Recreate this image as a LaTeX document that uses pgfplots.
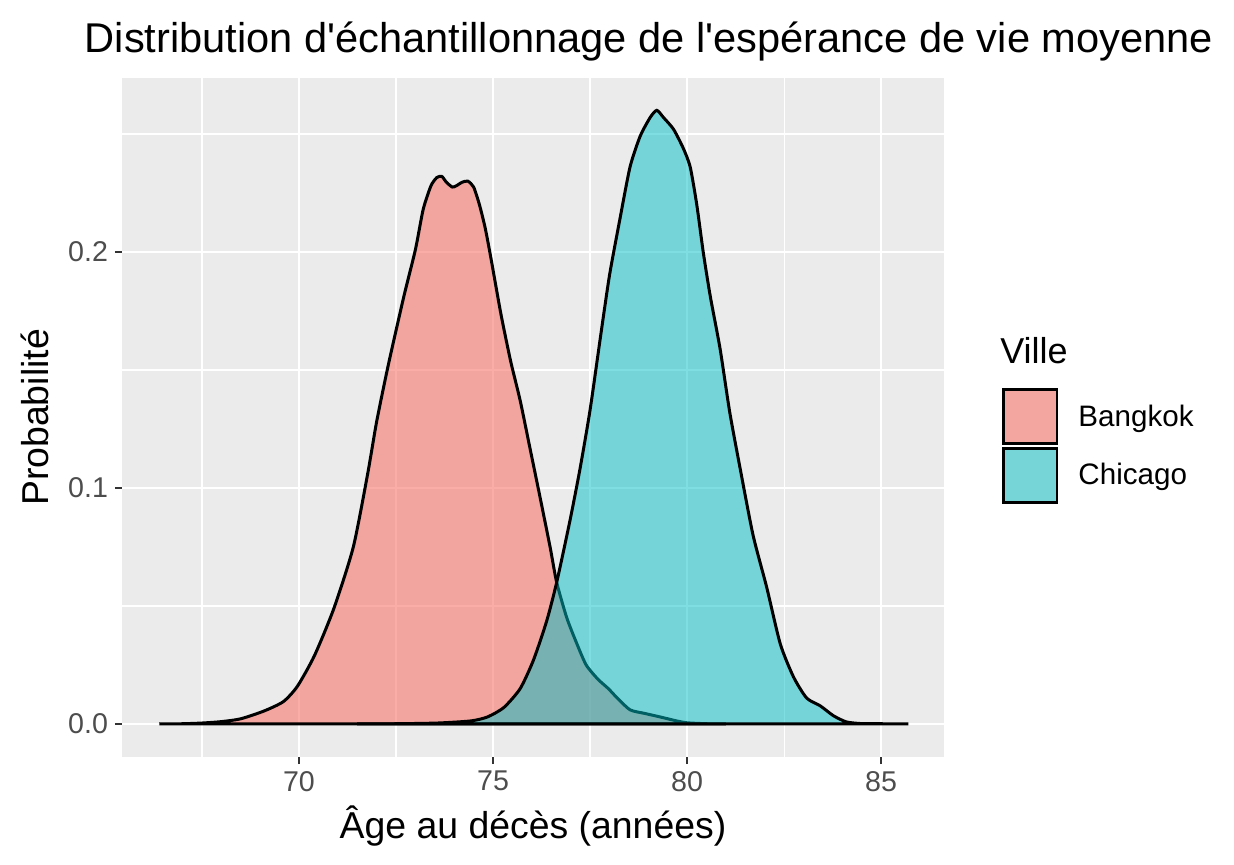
\documentclass[border=0pt]{standalone}
\usepackage{pgfplots}
\pgfplotsset{compat=1.18}
\usepackage{pgfplotstable}
\usepackage{fontspec}
\setmainfont{Liberation Sans}
\definecolor{bgpanel}{HTML}{EBEBEB}
\definecolor{bkcol}{HTML}{F8766D}
\definecolor{chcol}{HTML}{00BFC4}
\definecolor{tickgrey}{HTML}{333333}
\definecolor{labgrey}{HTML}{4D4D4D}

\pgfplotstableread{
x y
66.4 0
67.0 0.0001
67.5 0.0004
68.0 0.0010
68.5 0.0022
69.1 0.0055
69.6 0.0095
69.96 0.016
70.4 0.029
70.9 0.049
71.4 0.075
71.77 0.106
72.0 0.128
72.3 0.152
72.7 0.181
73.0 0.201
73.2 0.218
73.4 0.228
73.55 0.2315
73.68 0.232
73.8 0.2295
73.95 0.2275
74.05 0.2280
74.2 0.2295
74.35 0.2300
74.5 0.2275
74.65 0.220
74.8 0.210
74.95 0.197
75.2 0.174
75.45 0.154
75.7 0.137
75.95 0.117
76.2 0.097
76.47 0.075
76.64 0.060
76.9 0.045
77.16 0.034
77.4 0.025
77.7 0.019
77.97 0.015
78.2 0.011
78.53 0.006
78.9 0.0045
79.3 0.003
79.73 0.0013
80.0 0.0005
80.5 0.0001
81.0 0
}\bangkok

\pgfplotstableread{
x y
71.5 0
72.5 0.0001
73.57 0.0004
74.43 0.0013
74.86 0.003
75.28 0.007
75.7 0.015
76.04 0.027
76.38 0.0435
76.64 0.060
76.98 0.086
77.24 0.108
77.5 0.133
77.76 0.163
78.0 0.190
78.27 0.214
78.53 0.236
78.79 0.249
79.05 0.257
79.22 0.260
79.39 0.257
79.65 0.252
79.9 0.244
80.08 0.236
80.25 0.220
80.42 0.1995
80.6 0.181
80.85 0.159
81.1 0.132
81.37 0.108
81.7 0.080
82.05 0.058
82.4 0.034
82.74 0.020
83.08 0.011
83.43 0.0077
83.77 0.0035
84.1 0.0009
84.46 0.0002
85.0 0.0001
85.7 0
}\chicago

\begin{document}
\begin{tikzpicture}
\useasboundingbox (0,0) rectangle (617pt,432pt);
\begin{axis}[
  at={(61pt,53.5pt)}, anchor=south west,
  scale only axis,
  width=411pt, height=339.5pt,
  xmin=65.44, xmax=86.62,
  ymin=-0.014, ymax=0.2737,
  axis background/.style={fill=bgpanel},
  axis line style={draw=none},
  xtick={70,75,80,85},
  ytick={0,0.1,0.2},
  minor xtick={67.5,72.5,77.5,82.5},
  minor ytick={0.05,0.15,0.25},
  yticklabels={0.0,0.1,0.2},
  xticklabels={70,75,80,85},
  grid=both,
  major grid style={white, line width=1.2pt},
  minor grid style={white, line width=0.6pt},
  tick align=outside,
  major tick length=3.5pt,
  minor tick length=0pt,
  tick style={tickgrey, line width=1pt},
  xtick pos=bottom, ytick pos=left,
  ticklabel style={font=\fontsize{14.3}{16}\selectfont, text=labgrey},
  /pgf/number format/assume math mode=true,
  xlabel={Âge au décès (années)},
  ylabel={Probabilité},
  xlabel style={at={(0.5,-0.1016)}, anchor=center, font=\fontsize{18.7}{21}\selectfont},
  ylabel style={at={(-0.1058,0.50)}, anchor=center, font=\fontsize{18.7}{21}\selectfont},
  title={Distribution d\textquotesingle échantillonnage de l\textquotesingle espérance de vie moyenne},
  title style={at={(0.641,1.036)}, anchor=center, font=\fontsize{20.8}{24}\selectfont},
  clip=false,
  legend style={at={(1.0706,0.5449)}, anchor=north west, draw=none, fill=none,
    inner sep=0pt, row sep=0pt, nodes={inner sep=0pt, font=\fontsize{14.8}{17}\selectfont}},
  legend cell align=left,
]
\addplot[draw=black, line width=1.5pt, fill=bkcol, fill opacity=0.6, smooth, tension=0.4,
  legend image code/.code={
    \path[draw=none, fill=none] (0pt,-14.7pt) rectangle (38pt,14.7pt);
    \draw[fill=bkcol!60!bgpanel, fill opacity=1, draw=black, line width=1.4pt] (0.7pt,-13.5pt) rectangle (27.3pt,13.5pt);
  }] table[x=x,y=y] {\bangkok} \closedcycle;
\addlegendentry{Bangkok}
\addplot[draw=black, line width=1.5pt, fill=chcol, fill opacity=0.5, smooth, tension=0.4,
  legend image code/.code={
    \path[draw=none, fill=none] (0pt,-14.7pt) rectangle (38pt,14.7pt);
    \draw[fill=chcol!50!bgpanel, fill opacity=1, draw=black, line width=1.4pt] (0.7pt,-13.5pt) rectangle (27.3pt,13.5pt);
  }] table[x=x,y=y] {\chicago} \closedcycle;
\addlegendentry{Chicago}
\node[anchor=west, font=\fontsize{18}{21}\selectfont, inner sep=0pt] at (rel axis cs:1.068,0.599) {Ville};
\end{axis}
\end{tikzpicture}
\end{document}
